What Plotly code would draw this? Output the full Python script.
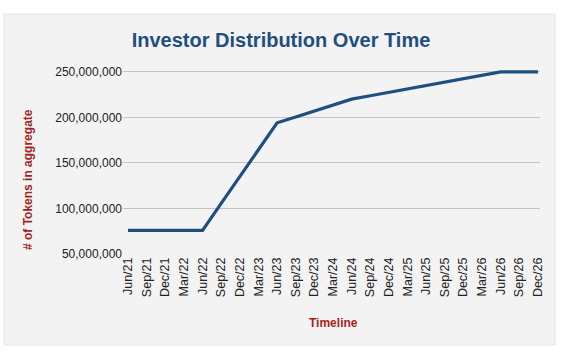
import plotly.graph_objects as go

categories = ["Jun/21", "Sep/21", "Dec/21", "Mar/22", "Jun/22", "Sep/22", "Dec/22", "Mar/23",
              "Jun/23", "Sep/23", "Dec/23", "Mar/24", "Jun/24", "Sep/24", "Dec/24", "Mar/25",
              "Jun/25", "Sep/25", "Dec/25", "Mar/26", "Jun/26", "Sep/26", "Dec/26"]
tokens = [76_000_000, 76_000_000, 76_000_000, 76_000_000, 76_000_000,
          105_500_000, 135_000_000, 164_500_000, 194_000_000,
          200_500_000, 207_000_000, 213_500_000, 220_000_000,
          223_750_000, 227_500_000, 231_250_000, 235_000_000,
          238_750_000, 242_500_000, 246_250_000, 250_000_000,
          250_000_000, 250_000_000]
y_ticks = [50_000_000, 100_000_000, 150_000_000, 200_000_000, 250_000_000]
y_tick_labels = ["50,000,000", "100,000,000", "150,000,000", "200,000,000", "250,000,000"]

W, H = 568, 355
L, R, T, B = 123, 28, 70, 101
pw, ph = W - L - R, H - T - B

def px_x(x):
    return (x - L) / pw

def px_y(y):
    return (H - B - y) / ph

FONT = "Arial, Liberation Sans, sans-serif"
BG = "#f3f3f3"

fig = go.Figure()
fig.add_trace(go.Scatter(
    x=list(range(len(categories))), y=tokens, mode="lines",
    line=dict(color="#1f4e80", width=3.2), hoverinfo="skip", showlegend=False,
))

fig.update_layout(
    width=W, height=H,
    margin=dict(l=L, r=R, t=T, b=B),
    paper_bgcolor="white", plot_bgcolor=BG,
    font=dict(family=FONT, size=12, color="#222222"),
    title=dict(text="<b>Investor Distribution Over Time</b>", x=281 / W, xref="container",
               xanchor="center", y=1 - 40 / H, yref="container", yanchor="middle",
               font=dict(family=FONT, size=20, color="#1f4e80")),
    xaxis=dict(
        tickmode="array", tickvals=list(range(len(categories))), ticktext=categories,
        tickangle=-90, range=[-0.27, 22.11], showgrid=False, zeroline=False,
        showline=False, ticks="", tickfont=dict(size=12.5, color="#222222"),
    ),
    yaxis=dict(
        tickmode="array", tickvals=y_ticks, ticktext=y_tick_labels,
        range=[50_000_000, 252_000_000], showgrid=True, gridcolor="#c4c4c4", gridwidth=1,
        zeroline=False, showline=False, ticks="", tickfont=dict(size=12, color="#222222"),
    ),
    shapes=[dict(type="rect", xref="paper", yref="paper",
                 x0=px_x(4), x1=px_x(555), y0=px_y(345), y1=px_y(14),
                 fillcolor=BG, line=dict(color="#e4e4e4", width=1), layer="below")],
    annotations=[
        dict(text="<b># of Tokens in aggregate</b>", xref="paper", yref="paper",
             x=px_x(28), y=px_y(180), textangle=-90, showarrow=False,
             xanchor="center", yanchor="middle",
             font=dict(family=FONT, size=12, color="#a51f1f")),
        dict(text="<b>Timeline</b>", xref="paper", yref="paper",
             x=px_x(333), y=px_y(323), showarrow=False,
             xanchor="center", yanchor="middle",
             font=dict(family=FONT, size=12, color="#a51f1f")),
    ],
)

fig.write_html("out.html", config={"displayModeBar": False},
               post_script="document.body.style.margin='0';")
